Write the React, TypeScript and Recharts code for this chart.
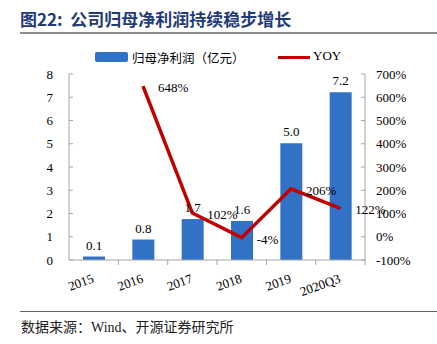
import { ComposedChart, Bar, Line, XAxis, YAxis, LabelList } from "recharts";

const years = ["2015", "2016", "2017", "2018", "2019", "2020Q3"];
const profit = [0.15, 0.88, 1.76, 1.68, 5.02, 7.22];
const profitLabels = ["0.1", "0.8", "1.7", "1.6", "5.0", "7.2"];
const yoy = [null, 648, 102, -4, 206, 122];
const leftTicks = [0, 1, 2, 3, 4, 5, 6, 7, 8];
const rightTicks = [-100, 0, 100, 200, 300, 400, 500, 600, 700];

const barName = "归母净利润（亿元）";
const lineName = "YOY";

const serif = "'Liberation Serif', 'Times New Roman', serif";
const cjk = "'Noto Sans CJK SC', sans-serif";
const axisGray = "#A6A6A6";
const barBlue = "#3172C6";
const lineRed = "#C00000";

const data = years.map((y, i) => ({
    year: y,
    profit: profit[i],
    profitLabel: profitLabels[i],
    yoy: yoy[i],
}));

// ticks drawn by hand: ticks point inward like the source chart
const LeftTick = (props: any) => {
    const { x, y, payload } = props;
    return (
        <g>
            <line x1={x + 16} x2={x + 20} y1={y} y2={y} stroke={axisGray} />
            <text x={x} y={y} dy={4.5} textAnchor="end" fontFamily={serif} fontSize={13} fill="#000">
                {payload.value}
            </text>
        </g>
    );
};

const RightTick = (props: any) => {
    const { x, y, payload } = props;
    return (
        <g>
            <line x1={x - 15} x2={x - 11} y1={y} y2={y} stroke={axisGray} />
            <text x={x} y={y} dy={4.5} textAnchor="start" fontFamily={serif} fontSize={13} fill="#000">
                {payload.value + "%"}
            </text>
        </g>
    );
};

const XTick = (props: any) => {
    const { x, y, payload } = props;
    return (
        <g>
            <line x1={x + 24.7} x2={x + 24.7} y1={y} y2={y + 5} stroke={axisGray} />
            <text
                x={x + 1}
                y={y + 22}
                textAnchor="end"
                fontFamily={serif}
                fontSize={13}
                fill="#000"
                transform={`rotate(-20 ${x + 1} ${y + 22})`}
            >
                {payload.value}
            </text>
        </g>
    );
};

const YoyLabel = (props: any) => {
    const { x, y, value } = props;
    if (value == null) return null;
    return (
        <text x={x + 15} y={y} dy={6} textAnchor="start" fontFamily={serif} fontSize={13} fill="#000">
            {value + "%"}
        </text>
    );
};

export default function App() {
    return (
        <div style={{ position: "absolute", left: 0, top: 0, width: 437, height: 344, background: "#fff" }}>
            <ComposedChart
                width={437}
                height={344}
                data={data}
                margin={{ top: 74, right: 0, bottom: 54, left: 0 }}
                barCategoryGap="55%"
            >
                <XAxis
                    dataKey="year"
                    height={30}
                    tickSize={0}
                    tickMargin={0}
                    stroke={axisGray}
                    tick={<XTick />}
                    interval={0}
                />
                <YAxis
                    yAxisId="left"
                    orientation="left"
                    width={69}
                    domain={[0, 8]}
                    ticks={leftTicks}
                    tickSize={0}
                    tickMargin={16}
                    stroke={axisGray}
                    tick={<LeftTick />}
                />
                <YAxis
                    yAxisId="right"
                    orientation="right"
                    width={72}
                    domain={[-100, 700]}
                    ticks={rightTicks}
                    tickSize={0}
                    tickMargin={11}
                    stroke={axisGray}
                    tick={<RightTick />}
                />
                <Bar yAxisId="left" dataKey="profit" name={barName} fill={barBlue} barSize={22} isAnimationActive={false}>
                    <LabelList
                        dataKey="profitLabel"
                        position="top"
                        offset={7}
                        style={{ fontFamily: serif, fontSize: 13, fill: "#000" }}
                    />
                </Bar>
                <Line
                    yAxisId="right"
                    dataKey="yoy"
                    name={lineName}
                    stroke={lineRed}
                    strokeWidth={3.5}
                    dot={false}
                    isAnimationActive={false}
                >
                    <LabelList dataKey="yoy" content={<YoyLabel />} />
                </Line>
            </ComposedChart>

            {/* title */}
            <div
                style={{
                    position: "absolute",
                    left: 20,
                    top: 6,
                    fontFamily: cjk,
                    fontWeight: 700,
                    fontSize: 17,
                    color: "#1F3B7A",
                    whiteSpace: "pre",
                }}
            >
                {"图22:  公司归母净利润持续稳步增长"}
            </div>
            <div style={{ position: "absolute", left: 20, top: 32, width: 417, height: 2, background: "#8C8C8C" }} />

            {/* legend */}
            <div style={{ position: "absolute", left: 95, top: 52, width: 33, height: 10, background: barBlue, borderRadius: 2 }} />
            <div style={{ position: "absolute", left: 132, top: 48, fontFamily: cjk, fontSize: 12.5, color: "#000" }}>{barName}</div>
            <div style={{ position: "absolute", left: 278, top: 56, width: 32, height: 3, background: lineRed }} />
            <div style={{ position: "absolute", left: 313, top: 48, fontFamily: serif, fontSize: 13, color: "#000" }}>{lineName}</div>

            {/* footer */}
            <div style={{ position: "absolute", left: 20, top: 311, width: 417, height: 1, background: "#666" }} />
            <div style={{ position: "absolute", left: 21, top: 316, fontFamily: cjk, fontSize: 14, color: "#222", whiteSpace: "pre" }}>
                数据来源：<span style={{ fontFamily: serif }}>Wind</span>、开源证券研究所
            </div>
        </div>
    );
}
